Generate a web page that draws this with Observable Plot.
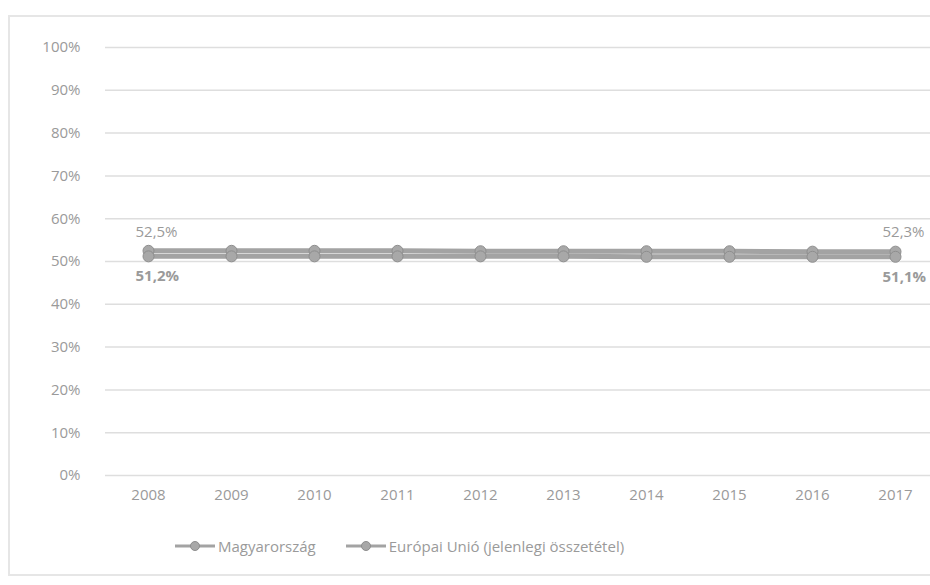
<!DOCTYPE html>
<html>
<head>
<meta charset="utf-8">
<script src="https://cdn.jsdelivr.net/npm/d3@7"></script>
<script src="https://cdn.jsdelivr.net/npm/@observablehq/plot@0.6"></script>
<style>
  html, body { margin: 0; padding: 0; background: #fff; }
  #wrap { position: relative; width: 930px; height: 585px; overflow: hidden; font-family: "Open Sans", sans-serif; }
  #frame { position: absolute; left: 8px; top: 15px; width: 940px; height: 561px; border: 2px solid #e6e6e6; box-sizing: border-box; }
  #chart { position: absolute; left: 0; top: 0; }
  #legend { position: absolute; top: 536px; left: 175px; display: flex; gap: 30px; font-size: 15px; color: #9a9a9a; }
  .item { display: flex; align-items: center; gap: 3px; }
</style>
</head>
<body>
<div id="wrap">
  <div id="frame"></div>
  <div id="chart"></div>
  <div id="legend"></div>
</div>
<script>
const years = ["2008","2009","2010","2011","2012","2013","2014","2015","2016","2017"];
const seriesNames = ["Magyarország", "Európai Unió (jelenlegi összetétel)"];
const hungary = [52.5, 52.5, 52.5, 52.5, 52.4, 52.4, 52.4, 52.4, 52.3, 52.3];
const eu = [51.2, 51.2, 51.2, 51.2, 51.2, 51.2, 51.1, 51.1, 51.1, 51.1];
const yTicks = [0,10,20,30,40,50,60,70,80,90,100];

const rows = [];
years.forEach((y, i) => {
  rows.push({year: y, series: seriesNames[0], v: hungary[i] / 100});
  rows.push({year: y, series: seriesNames[1], v: eu[i] / 100});
});
const fmt = v => (v * 100).toFixed(1).replace(".", ",") + "%";
const ends = [0, years.length - 1];
const labelsTop = ends.map(i => ({year: years[i], v: hungary[i] / 100}));
const labelsBottom = ends.map(i => ({year: years[i], v: eu[i] / 100}));

const lineColor = "#a3a3a3";
const textColor = "#9a9a9a";

const chart = Plot.plot({
  width: 930,
  height: 520,
  marginLeft: 105,
  marginRight: -8,
  marginTop: 47,
  marginBottom: 45,
  style: {fontFamily: "Open Sans, sans-serif", fontSize: "14px", color: textColor, background: "transparent"},
  x: {type: "point", domain: years, padding: 0.5, label: null},
  y: {domain: [0, 1], label: null},
  marks: [
    Plot.ruleY(yTicks.map(d => d / 100), {stroke: "#dedede", strokeWidth: 1.5}),
    Plot.axisY(yTicks.map(d => d / 100), {tickSize: 0, tickPadding: 25, tickFormat: d => Math.round(d * 100) + "%", fill: textColor, fontSize: 15, label: null}),
    Plot.axisX({tickSize: 0, tickPadding: 14, fill: textColor, fontSize: 15, label: null}),
    Plot.line(rows, {x: "year", y: "v", z: "series", stroke: lineColor, strokeWidth: 5}),
    Plot.dot(rows, {x: "year", y: "v", r: 5.5, fill: "#a8a8a8", stroke: "#8e8e8e", strokeWidth: 1}),
    Plot.text(labelsTop, {x: "year", y: "v", text: d => fmt(d.v), dy: -19, dx: -13, textAnchor: "start", fill: textColor, fontSize: 15}),
    Plot.text(labelsBottom, {x: "year", y: "v", text: d => fmt(d.v), dy: 20, dx: -13, textAnchor: "start", fill: textColor, fontSize: 15, fontWeight: "bold"})
  ]
});
document.getElementById("chart").appendChild(chart);

const legend = document.getElementById("legend");
seriesNames.forEach(name => {
  const item = document.createElement("div");
  item.className = "item";
  item.innerHTML = `<svg width="40" height="12"><line x1="0" y1="6" x2="40" y2="6" stroke="${lineColor}" stroke-width="3"/><circle cx="20" cy="6" r="4.5" fill="#a8a8a8" stroke="#8e8e8e"/></svg><span>${name}</span>`;
  legend.appendChild(item);
});
</script>
</body>
</html>
